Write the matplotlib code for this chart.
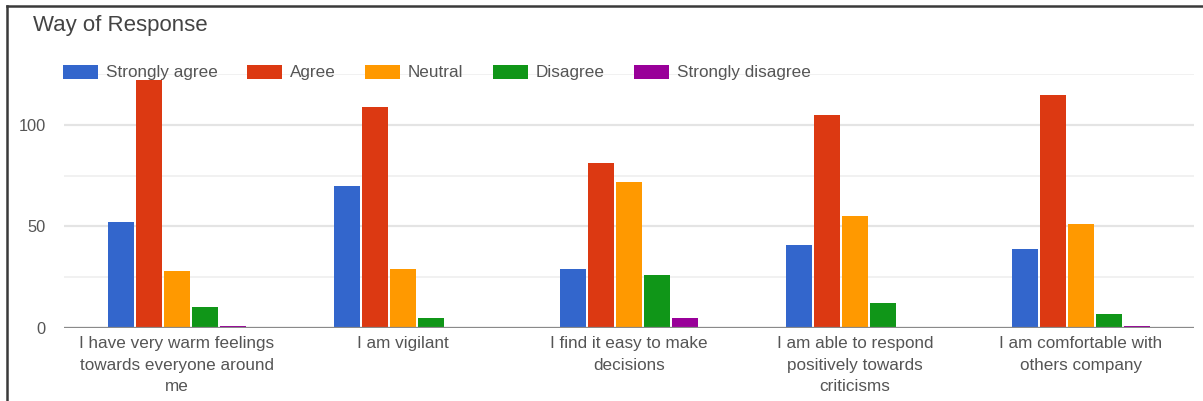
import numpy as np
import matplotlib
matplotlib.use("Agg")
import matplotlib.pyplot as plt
from matplotlib.patches import Patch
from matplotlib.lines import Line2D

#=================
#data
#=================
questions = [
    "I have very warm feelings\ntowards everyone around\nme",
    "I am vigilant",
    "I find it easy to make\ndecisions",
    "I am able to respond\npositively towards\ncriticisms",
    "I am comfortable with\nothers company",
]
responses = ["Strongly agree", "Agree", "Neutral", "Disagree", "Strongly disagree"]

strongly_agree = [52, 70, 29, 41, 39]
agree = [122, 109, 81, 105, 115]
neutral = [28, 29, 72, 55, 51]
disagree = [10, 5, 26, 12, 7]
strongly_disagree = [1, 0, 5, 0, 1]

colors = ["#3366cc", "#dc3912", "#ff9900", "#109618", "#990099"]

#=================
#figure
#=================
plt.rcParams["font.family"] = ["Liberation Sans", "DejaVu Sans"]
W, H = 1203, 401
fig = plt.figure(figsize=(W / 100, H / 100), dpi=100)
ax = fig.add_axes([64 / W, 1 - 327.7 / H, (1194 - 64) / W, (327.7 - 74.3) / H])

series = [strongly_agree, agree, neutral, disagree, strongly_disagree]
x = np.arange(len(questions))
slot = 0.124
width = 0.115
for i, (name, vals) in enumerate(zip(responses, series)):
    ax.bar(x + (i - 2) * slot, vals, width, color=colors[i], label=name, zorder=3)

#=================
#axes style
#=================
ax.set_xlim(-0.5, len(questions) - 0.5)
ax.set_ylim(0, 125)
ax.set_yticks([0, 50, 100])
ax.set_yticks([25, 75, 125], minor=True)
ax.grid(True, axis="y", which="major", color="#e4e4e4", linewidth=1.6, zorder=0)
ax.grid(True, axis="y", which="minor", color="#f1f1f1", linewidth=1.4, zorder=0)
ax.axhline(0, color="#8a8a8a", linewidth=1.6, zorder=4)
for s in ax.spines.values():
    s.set_visible(False)

ax.set_xticks(x)
ax.set_xticklabels(questions, fontsize=12.3, color="#555555", linespacing=1.55)
ax.tick_params(axis="x", length=0, pad=6)
ax.tick_params(axis="y", which="both", length=0, pad=13, labelsize=11.8, labelcolor="#555555")

#=================
#title / legend
#=================
fig.text(33 / W, 1 - 25 / H, "Way of Response", fontsize=16, color="#444444",
         ha="left", va="center")

handles = [Patch(facecolor=c, edgecolor="none") for c in colors]
fig.legend(
    handles, responses,
    loc="center left",
    bbox_to_anchor=(63 / W, 1 - 72.5 / H),
    ncol=5,
    frameon=False,
    fontsize=12.3,
    labelcolor="#555555",
    handlelength=2.05,
    handleheight=0.88,
    handletextpad=0.47,
    columnspacing=1.7,
    borderpad=0,
    borderaxespad=0,
)

#=================
#frame
#=================
fig.add_artist(Line2D([7 / W, 7 / W], [0, 1 - 6 / H], transform=fig.transFigure,
                      color="#3a3a3a", linewidth=1.8))
fig.add_artist(Line2D([7 / W, 1], [1 - 6 / H, 1 - 6 / H], transform=fig.transFigure,
                      color="#3a3a3a", linewidth=1.8))

fig.savefig("out.png", dpi=100)
plt.close()
